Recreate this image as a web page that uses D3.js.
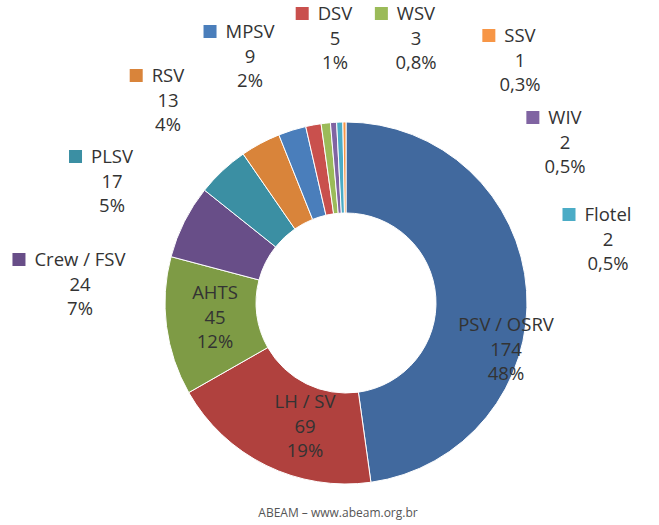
<!DOCTYPE html><html><head><meta charset="utf-8"><script src="https://d3js.org/d3.v7.min.js"></script>
<style>body{margin:0;background:#fff}text{font-family:"Open Sans",sans-serif;fill:#333}</style></head><body><svg id="c" width="659" height="525"></svg>
<script>
const categories=["PSV / OSRV","LH / SV","AHTS","Crew / FSV","PLSV","RSV","MPSV","DSV","WSV","WIV","Flotel","SSV"];
const values=[174,69,45,24,17,13,9,5,3,2,2,1];
const percents=["48%","19%","12%","7%","5%","4%","2%","1%","0,8%","0,5%","0,5%","0,3%"];
const colors=["#41699E","#B0413E","#7E9B45","#684E88","#3B8FA3","#D9843A","#4A7EBB","#C9504D","#9BBB59","#8064A2","#4BACC6","#F79646"];
const layout=[[506,331,false],[305,408,false],[215,299,false],[80,266,true],[112,163,true],[168,82,true],[250,38,true],[335,20,true],[416,20,true],[565,124,true],[608,221,true],[520,42,true]];
const svg=d3.select("#c"),cx=346,cy=303,R=181,r=90;
const pie=d3.pie().sort(null).value(d=>d);
const arc=d3.arc().innerRadius(r).outerRadius(R);
const g=svg.append("g").attr("transform",`translate(${cx},${cy})`);
g.selectAll("path").data(pie(values)).join("path").attr("d",arc).attr("fill",(d,i)=>colors[i]).attr("stroke","#fff").attr("stroke-width",1);
categories.forEach((c,i)=>{
  const [x,y,sw]=layout[i];
  const t=svg.append("text").attr("text-anchor","middle").attr("font-size",18.5);
  [c,values[i],percents[i]].forEach((s,k)=>t.append("tspan").attr("x",x).attr("y",y+k*24.5).text(s));
  if(sw){const first=t.select("tspan").node().getComputedTextLength();
    svg.append("rect").attr("x",x-first/2-22).attr("y",y-13).attr("width",13).attr("height",13).attr("fill",colors[i]);}
});
svg.append("text").attr("x",338).attr("y",517).attr("text-anchor","middle").attr("font-size",12).style("fill","#555").text("ABEAM – www.abeam.org.br");
</script></body></html>
